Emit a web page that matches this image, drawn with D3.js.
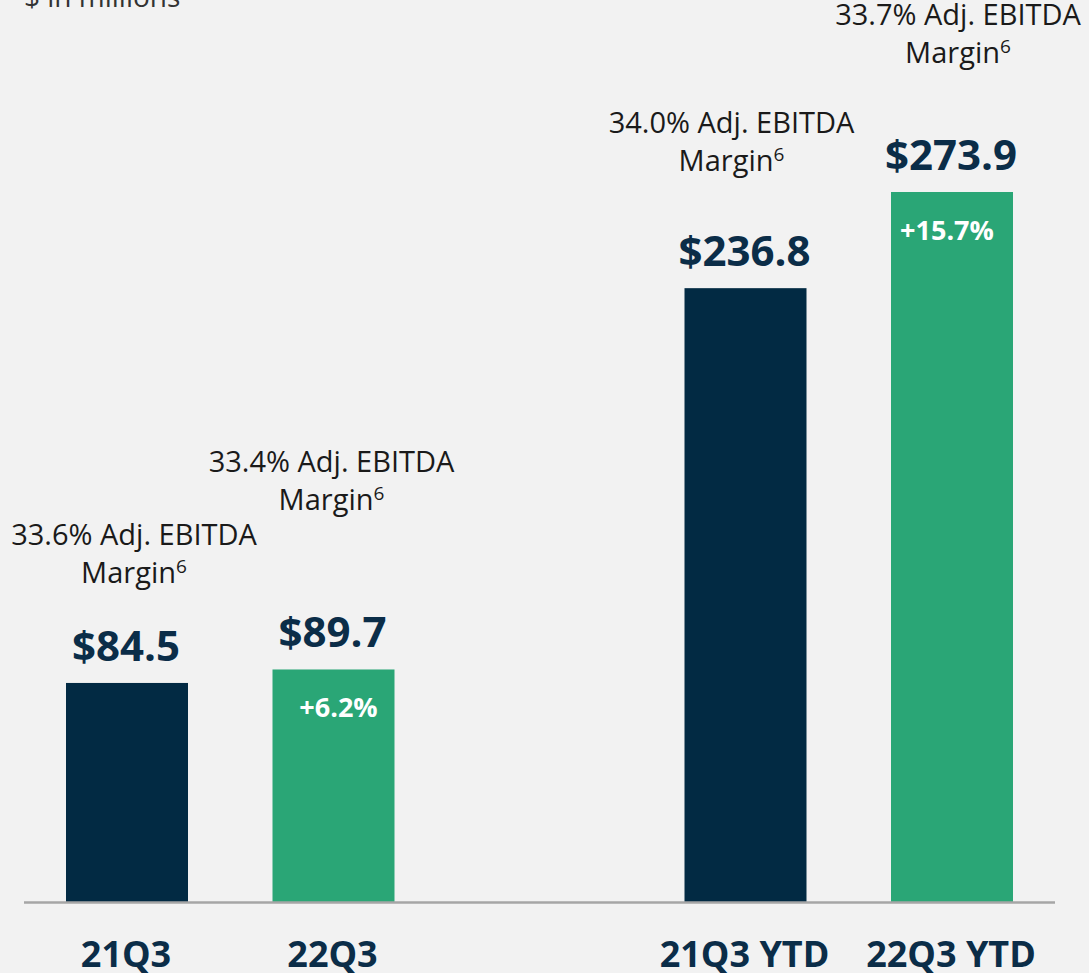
<!DOCTYPE html>
<html>
<head>
<meta charset="utf-8">
<script src="https://cdn.jsdelivr.net/npm/d3@7"></script>
<style>
  html, body { margin: 0; padding: 0; background: #f2f2f2; }
  svg { display: block; font-family: "Open Sans", "Noto Sans", sans-serif; }
</style>
</head>
<body>
<svg id="chart" width="1089" height="973"></svg>
<script>
// Adjusted EBITDA, $ in millions
const categories = ["21Q3", "22Q3", "21Q3 YTD", "22Q3 YTD"];
const values = [84.5, 89.7, 236.8, 273.9];
const margins = ["33.6%", "33.4%", "34.0%", "33.7%"];
const growth = [null, "+6.2%", null, "+15.7%"];
const periodType = ["prior", "current", "prior", "current"];

// Label placement: horizontal nudge and gap above the bar top for the margin callouts
const marginDx = [7, -2, -14, 6];
const marginGap = [100, 159, 117, 129];
const growthDx = [0, 5, 0, -5];

const colors = { prior: "#022a43", current: "#2aa676" };

const svg = d3.select("#chart");
const baseY = 902;

// bar centres: two groups of two, with a wider gap between the groups
const x = d3.scaleOrdinal()
  .domain(categories)
  .range([127, 333.5, 745.5, 952]);
const barWidth = 122;

const y = d3.scaleLinear()
  .domain([0, 273.9])
  .range([baseY, 192]);

// unit note
svg.append("text")
  .attr("x", 24).attr("y", 7)
  .attr("font-size", 28)
  .attr("fill", "#333")
  .text("$ in millions");

// bars
svg.selectAll("rect.bar")
  .data(categories)
  .join("rect")
  .attr("class", "bar")
  .attr("x", d => x(d) - barWidth / 2)
  .attr("width", barWidth)
  .attr("y", (d, i) => y(values[i]))
  .attr("height", (d, i) => y(0) - y(values[i]))
  .attr("fill", (d, i) => colors[periodType[i]]);

// baseline
svg.append("line")
  .attr("x1", 24).attr("x2", 1055)
  .attr("y1", baseY + 0.5).attr("y2", baseY + 0.5)
  .attr("stroke", "#a6a6a6")
  .attr("stroke-width", 2.5);

// value labels
svg.selectAll("text.value")
  .data(categories)
  .join("text")
  .attr("class", "value")
  .attr("x", d => x(d) - 1)
  .attr("y", (d, i) => y(values[i]) - 22)
  .attr("text-anchor", "middle")
  .attr("font-size", 42)
  .attr("font-weight", 700)
  .attr("fill", "#0b2d48")
  .text((d, i) => "$" + values[i].toFixed(1));

// growth labels inside the current-period bars
svg.selectAll("text.growth")
  .data(categories.filter((d, i) => growth[i]))
  .join("text")
  .attr("class", "growth")
  .attr("x", d => x(d) + growthDx[categories.indexOf(d)])
  .attr("y", d => y(values[categories.indexOf(d)]) + 48)
  .attr("text-anchor", "middle")
  .attr("font-size", 27)
  .attr("font-weight", 700)
  .attr("fill", "#ffffff")
  .text(d => growth[categories.indexOf(d)]);

// margin callouts (two lines with a superscript footnote)
const callouts = svg.selectAll("g.margin")
  .data(categories)
  .join("g")
  .attr("class", "margin")
  .attr("transform", (d, i) => `translate(${x(d) + marginDx[i]},${y(values[i]) - marginGap[i]})`);

callouts.append("text")
  .attr("y", -38)
  .attr("text-anchor", "middle")
  .attr("font-size", 29)
  .attr("fill", "#1a1a1a")
  .text((d, i) => `${margins[i]} Adj. EBITDA`);

const second = callouts.append("text")
  .attr("y", 0)
  .attr("text-anchor", "middle")
  .attr("font-size", 29)
  .attr("fill", "#1a1a1a");
second.append("tspan").text("Margin");
second.append("tspan")
  .attr("font-size", 19)
  .attr("dy", -10)
  .text("6");

// category labels
svg.selectAll("text.cat")
  .data(categories)
  .join("text")
  .attr("class", "cat")
  .attr("x", d => x(d) - 1)
  .attr("y", 967)
  .attr("text-anchor", "middle")
  .attr("font-size", 36)
  .attr("font-weight", 700)
  .attr("fill", "#0b2d48")
  .text(d => d);
</script>
</body>
</html>
